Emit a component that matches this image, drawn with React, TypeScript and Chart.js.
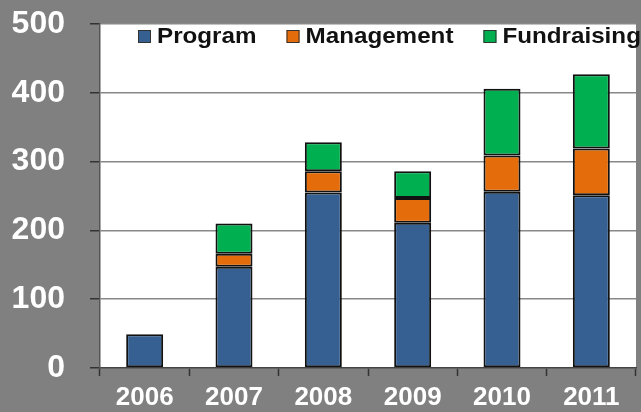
import React, { useEffect, useRef } from "react";
import { Chart, registerables } from "chart.js";

Chart.register(...registerables);

const years = ["2006", "2007", "2008", "2009", "2010", "2011"];
const program = [49, 147, 255, 211, 256, 251];
const management = [null, 19, 31, 36, 53, 68];
const fundraising = [null, 44, 42, 39, 97, 108];
const seriesNames = ["Program", "Management", "Fundraising"];
const seriesColors = ["#376092", "#E46C0A", "#00B050"];
const yTicks = [0, 100, 200, 300, 400, 500];

const FONT = "Arial, 'Liberation Sans', sans-serif";

const plotBg = {
  id: "plotBg",
  beforeDraw(chart: any) {
    const { ctx, chartArea } = chart;
    ctx.save();
    ctx.fillStyle = "#ffffff";
    ctx.fillRect(chartArea.left, chartArea.top, chartArea.right - chartArea.left, chartArea.bottom - chartArea.top);
    ctx.restore();
  },
};

const insideLegend = {
  id: "insideLegend",
  afterDraw(chart: any) {
    const { ctx, chartArea } = chart;
    ctx.save();
    ctx.font = "bold 22px " + FONT;
    ctx.textBaseline = "alphabetic";
    ctx.textAlign = "left";
    const sx = 1.1;
    let x = chartArea.left + 38;
    const baseline = chartArea.top + 19;
    chart.data.datasets.forEach((ds: any) => {
      ctx.fillStyle = ds.backgroundColor;
      ctx.fillRect(x, baseline - 13, 13, 13);
      ctx.strokeStyle = "#333";
      ctx.lineWidth = 1;
      ctx.strokeRect(x + 0.5, baseline - 12.5, 12, 12);
      const tx = x + 19;
      ctx.save();
      ctx.translate(tx, baseline);
      ctx.scale(sx, 1);
      ctx.fillStyle = "#111";
      ctx.fillText(ds.label, 0, 0);
      ctx.restore();
      const w = ctx.measureText(ds.label).width * sx;
      x = tx + w + 30;
    });
    ctx.restore();
  },
};

export default function App() {
  const ref = useRef<HTMLCanvasElement>(null);
  useEffect(() => {
    document.body.style.margin = "0";
    document.body.style.background = "#808080";
    const values = [program, management, fundraising];
    const chart = new Chart(ref.current!, {
      type: "bar",
      data: {
        labels: years,
        datasets: seriesNames.map((name, i) => ({
          label: name,
          data: values[i] as any,
          backgroundColor: seriesColors[i],
          borderColor: "#111111",
          borderWidth: 2,
          borderSkipped: false,
          barPercentage: 0.414,
          categoryPercentage: 1,
        })),
      },
      options: {
        responsive: false,
        animation: false,
        devicePixelRatio: 1,
        layout: { padding: { top: 24, right: 5, left: 0, bottom: 0 } },
        plugins: { legend: { display: false }, tooltip: { enabled: false } },
        scales: {
          x: {
            stacked: true,
            offset: true,
            grid: {
              display: true,
              drawOnChartArea: false,
              offset: true,
              tickLength: 8,
              tickColor: "#333",
              tickWidth: 1.5,
            },
            border: { color: "#444", width: 1.5 },
            ticks: {
              color: "#ffffff",
              font: { family: FONT, size: 26, weight: "bold" },
              padding: 6,
            },
            afterFit(scale: any) {
              scale.height = 44;
              scale.paddingLeft = 0;
              scale.paddingRight = 0;
            },
          },
          y: {
            stacked: true,
            min: 0,
            max: 500,
            afterBuildTicks(scale: any) {
              scale.ticks = yTicks.map((v) => ({ value: v }));
            },
            grid: {
              color: "#888888",
              lineWidth: 1.5,
              tickLength: 10,
              tickColor: "#333",
              tickWidth: 1.5,
            },
            border: { color: "#555", width: 1.5 },
            ticks: {
              color: "#ffffff",
              font: { family: FONT, size: 32, weight: "bold" },
              padding: 25,
            },
            afterFit(scale: any) {
              scale.width = 100;
              scale.paddingTop = 0;
              scale.paddingBottom = 0;
            },
          },
        },
      },
      plugins: [plotBg, insideLegend],
    });
    return () => chart.destroy();
  }, []);
  return (
    <div style={{ width: 641, height: 412, background: "#808080" }}>
      <canvas ref={ref} width={641} height={412} style={{ display: "block" }} />
    </div>
  );
}
